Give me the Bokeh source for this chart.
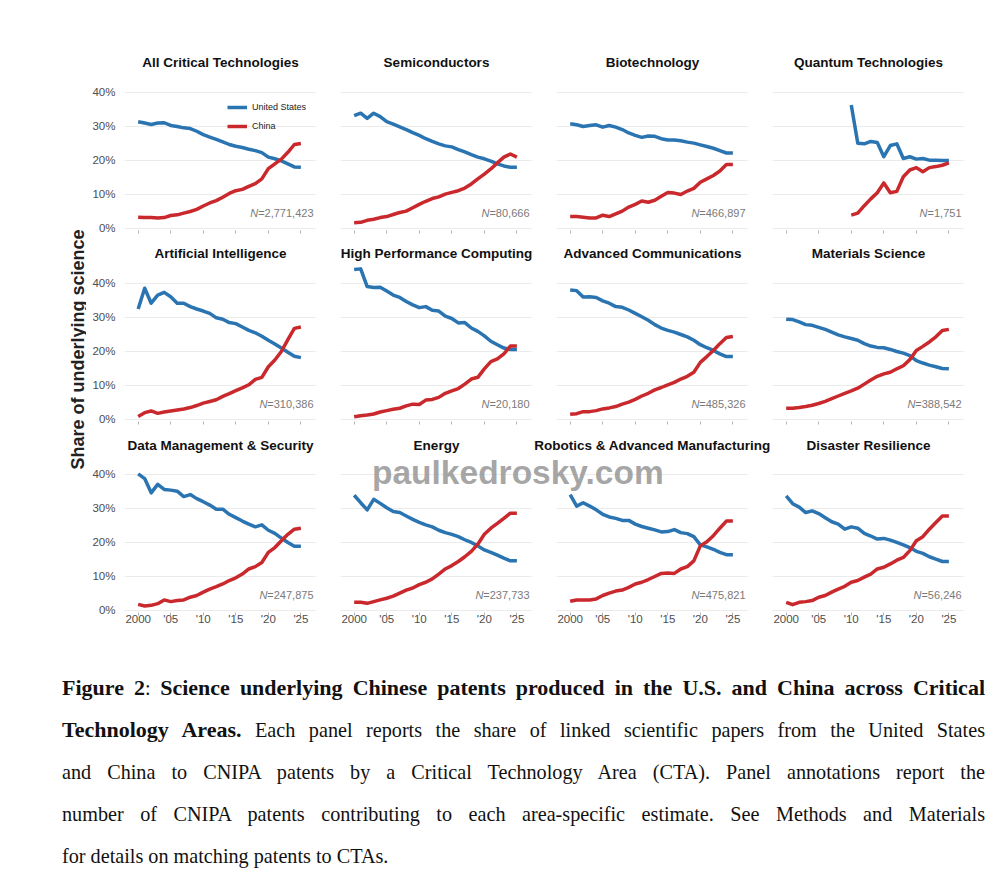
import math
from bokeh.plotting import figure
from bokeh.models import Range1d, FixedTicker, Label, Legend, LegendItem, Div
from bokeh.layouts import row, column
from bokeh.embed import file_html
from bokeh.resources import INLINE

# ---------------- data ----------------
years = list(range(2000, 2026))
years_q = list(range(2010, 2026))

titles = ["All Critical Technologies", "Semiconductors", "Biotechnology", "Quantum Technologies",
          "Artificial Intelligence", "High Performance Computing", "Advanced Communications", "Materials Science",
          "Data Management & Security", "Energy", "Robotics & Advanced Manufacturing", "Disaster Resilience"]
n_counts = ["2,771,423", "80,666", "466,897", "1,751",
            "310,386", "20,180", "485,326", "388,542",
            "247,875", "237,733", "475,821", "56,246"]

all_us = [31.4, 31.0, 30.6, 31.0, 31.1, 30.3, 30.0, 29.6, 29.4, 28.6, 27.6, 26.9, 26.2, 25.5, 24.7, 24.2, 23.8, 23.3, 22.9, 22.3, 21.0, 20.5, 19.9, 19.0, 18.1, 18.0]
all_cn = [3.3, 3.2, 3.2, 3.1, 3.2, 3.8, 4.0, 4.5, 5.0, 5.6, 6.6, 7.5, 8.2, 9.2, 10.3, 11.1, 11.5, 12.4, 13.2, 14.6, 17.6, 19.0, 20.4, 22.4, 24.7, 25.0]
semi_us = [33.2, 33.9, 32.4, 33.9, 32.9, 31.4, 30.7, 29.9, 29.1, 28.2, 27.4, 26.4, 25.6, 24.9, 24.3, 24.0, 23.2, 22.5, 21.7, 21.0, 20.5, 19.8, 19.0, 18.4, 18.0, 18.0]
semi_cn = [1.7, 1.8, 2.4, 2.7, 3.2, 3.5, 4.1, 4.7, 5.1, 6.1, 7.1, 8.0, 8.8, 9.3, 10.1, 10.6, 11.1, 11.9, 13.1, 14.6, 16.0, 17.5, 19.3, 21.0, 21.9, 21.0]
bio_us = [30.8, 30.5, 30.0, 30.3, 30.5, 29.8, 30.3, 29.8, 29.1, 28.1, 27.4, 26.8, 27.2, 27.1, 26.4, 26.0, 26.0, 25.8, 25.4, 25.1, 24.6, 24.1, 23.6, 22.9, 22.2, 22.2]
bio_cn = [3.5, 3.5, 3.3, 3.1, 3.1, 3.9, 3.5, 4.3, 5.1, 6.3, 7.1, 8.1, 7.7, 8.3, 9.5, 10.6, 10.4, 10.0, 11.0, 11.8, 13.6, 14.6, 15.6, 16.9, 18.8, 18.8]
q_us = [36.3, 25.1, 24.9, 25.6, 25.3, 21.1, 24.4, 24.9, 20.6, 21.1, 20.4, 20.6, 20.1, 20.1, 20.0, 20.0]
q_cn = [3.9, 4.5, 6.7, 8.7, 10.5, 13.4, 10.5, 10.9, 15.2, 17.2, 17.9, 16.7, 17.9, 18.2, 18.6, 19.3]
ai_us = [32.5, 38.6, 34.2, 36.6, 37.4, 36.1, 34.2, 34.2, 33.2, 32.5, 31.9, 31.2, 29.9, 29.5, 28.5, 28.2, 27.2, 26.2, 25.5, 24.5, 23.3, 22.2, 21.0, 19.8, 18.6, 18.2]
ai_cn = [0.9, 2.0, 2.5, 1.8, 2.2, 2.5, 2.8, 3.1, 3.5, 4.1, 4.8, 5.3, 5.8, 6.8, 7.6, 8.5, 9.3, 10.2, 11.8, 12.4, 15.5, 17.5, 20.0, 23.5, 26.8, 27.2]
hpc_us = [44.1, 44.3, 39.1, 38.8, 38.9, 37.8, 36.6, 35.9, 34.7, 33.7, 32.9, 33.2, 32.1, 31.9, 30.4, 29.7, 28.4, 28.5, 26.9, 25.9, 24.6, 23.0, 22.0, 21.0, 20.6, 20.6]
hpc_cn = [0.8, 1.1, 1.3, 1.6, 2.2, 2.6, 3.0, 3.3, 4.0, 4.5, 4.4, 5.7, 5.9, 6.5, 7.7, 8.4, 9.1, 10.4, 11.9, 12.4, 14.9, 17.0, 17.8, 19.3, 21.6, 21.6]
ac_us = [38.1, 37.9, 36.0, 36.1, 35.9, 34.9, 34.2, 33.2, 33.0, 32.2, 31.2, 30.2, 29.2, 27.9, 26.9, 26.2, 25.7, 25.0, 24.3, 23.3, 22.0, 21.1, 20.3, 19.3, 18.5, 18.5]
ac_cn = [1.5, 1.7, 2.3, 2.3, 2.6, 3.1, 3.4, 3.8, 4.5, 5.1, 5.9, 6.9, 7.7, 8.7, 9.4, 10.2, 10.9, 11.9, 12.7, 13.9, 16.8, 18.5, 20.3, 22.3, 24.1, 24.4]
mat_us = [29.5, 29.4, 28.7, 27.9, 27.7, 27.1, 26.5, 25.7, 24.9, 24.3, 23.8, 23.3, 22.3, 21.6, 21.2, 21.1, 20.6, 20.0, 19.5, 18.8, 17.3, 16.6, 16.0, 15.5, 15.0, 14.9]
mat_cn = [3.3, 3.3, 3.5, 3.8, 4.2, 4.7, 5.3, 6.1, 6.9, 7.7, 8.4, 9.2, 10.4, 11.6, 12.7, 13.4, 13.9, 14.9, 15.8, 17.6, 20.3, 21.5, 22.8, 24.3, 26.2, 26.5]
dm_us = [40.2, 38.8, 34.6, 37.1, 35.6, 35.4, 35.1, 33.5, 34.1, 32.9, 32.0, 31.0, 29.8, 29.8, 28.3, 27.3, 26.3, 25.4, 24.6, 25.2, 23.6, 22.7, 21.3, 20.0, 18.9, 18.9]
dm_cn = [1.8, 1.3, 1.5, 2.0, 3.1, 2.6, 2.9, 3.1, 3.9, 4.4, 5.4, 6.3, 7.0, 7.8, 8.8, 9.6, 10.7, 12.2, 12.9, 14.1, 17.1, 18.5, 20.5, 22.4, 23.9, 24.2]
en_us = [33.9, 31.7, 29.6, 32.7, 31.5, 30.2, 29.1, 28.8, 27.8, 26.8, 25.9, 25.2, 24.6, 23.6, 22.9, 22.4, 21.7, 20.8, 20.0, 19.0, 17.8, 17.1, 16.3, 15.4, 14.6, 14.6]
en_cn = [2.4, 2.4, 2.1, 2.6, 3.1, 3.6, 4.2, 5.1, 6.0, 6.6, 7.6, 8.3, 9.3, 10.7, 12.2, 13.2, 14.4, 15.8, 17.4, 19.5, 22.4, 24.2, 25.6, 27.1, 28.6, 28.6]
rob_us = [34.1, 30.7, 31.7, 30.7, 29.6, 28.3, 27.5, 27.1, 26.5, 26.5, 25.4, 24.7, 24.2, 23.7, 23.1, 23.2, 23.8, 22.9, 22.6, 21.7, 19.3, 18.7, 18.0, 17.1, 16.4, 16.4]
rob_cn = [2.7, 3.1, 3.1, 3.1, 3.4, 4.4, 5.1, 5.7, 6.0, 6.8, 7.8, 8.3, 9.1, 10.0, 10.9, 11.0, 10.9, 12.2, 12.9, 14.6, 19.0, 20.2, 22.0, 24.2, 26.3, 26.3]
dis_us = [33.7, 31.4, 30.4, 28.8, 29.3, 28.5, 27.3, 26.1, 25.4, 23.9, 24.6, 24.2, 22.7, 21.9, 21.0, 21.2, 20.7, 20.0, 19.3, 18.5, 17.4, 16.8, 15.8, 15.1, 14.4, 14.4]
dis_cn = [2.4, 1.7, 2.4, 2.6, 2.9, 3.9, 4.4, 5.4, 6.3, 7.1, 8.3, 8.8, 9.8, 10.7, 12.2, 12.7, 13.7, 14.8, 15.6, 17.6, 20.5, 21.7, 23.9, 25.9, 27.8, 27.8]

panel_x = [years, years, years, years_q, years, years, years, years, years, years, years, years]
panel_us = [all_us, semi_us, bio_us, q_us, ai_us, hpc_us, ac_us, mat_us, dm_us, en_us, rob_us, dis_us]
panel_cn = [all_cn, semi_cn, bio_cn, q_cn, ai_cn, hpc_cn, ac_cn, mat_cn, dm_cn, en_cn, rob_cn, dis_cn]

x_ticks = [2000, 2005, 2010, 2015, 2020, 2025]
x_tick_labels = ["2000", "'05", "'10", "'15", "'20", "'25"]
y_ticks = [0, 10, 20, 30, 40]
y_tick_labels = ["0%", "10%", "20%", "30%", "40%"]
series_names = ["United States", "China"]

# ---------------- styles ----------------
FONT = "Liberation Sans"
BLUE = "#2b74b2"
RED = "#c9282c"
FW, FH = 192, 155
PITCH = 216
YLAB_W = 86
C1_LEFT = 38
TICK_COL = "#b5b5b5"

def text_width(s, size):
    w = {"=": 0.584, ",": 0.278}
    return sum(w.get(c, 0.556) for c in s) * size

panels = []
for i in range(12):
    r, c = divmod(i, 4)
    p = figure(frame_width=FW, frame_height=FH,
               min_border_left=(C1_LEFT if c == 0 else 11), min_border_right=13,
               min_border_top=4, min_border_bottom=(26 if r == 2 else 10),
               x_range=Range1d(1997.9, 2027.4), y_range=Range1d(-0.6, 45),
               output_backend="svg", toolbar_location=None, tools="")
    p.outline_line_color = None
    p.background_fill_color = "white"
    p.border_fill_color = "white"
    p.xgrid.visible = False
    p.ygrid.ticker = FixedTicker(ticks=y_ticks)
    p.ygrid.grid_line_color = "#ebebeb"
    p.ygrid.grid_line_width = 1

    xa = p.xaxis[0]
    xa.axis_line_color = None
    xa.major_tick_line_color = TICK_COL
    xa.minor_tick_line_color = TICK_COL
    xa.major_tick_in = 0
    xa.major_tick_out = 3
    xa.minor_tick_in = 0
    xa.minor_tick_out = 3
    xa.major_label_text_font = FONT
    xa.major_label_text_color = "#4d4d4d"
    xa.major_label_text_font_size = "11.5px"
    if r == 2:
        xa.ticker = FixedTicker(ticks=x_ticks)
        xa.major_label_overrides = dict(zip(x_ticks, x_tick_labels))
        xa.major_label_standoff = -3
    else:
        # tick marks only, no labels in the upper rows
        xa.ticker = FixedTicker(ticks=[], minor_ticks=x_ticks)

    ya = p.yaxis[0]
    if c == 0:
        ya.ticker = FixedTicker(ticks=y_ticks)
        ya.major_label_overrides = dict(zip(y_ticks, y_tick_labels))
        ya.axis_line_color = None
        ya.major_tick_line_color = None
        ya.minor_tick_line_color = None
        ya.major_label_text_font = FONT
        ya.major_label_text_font_size = "11.5px"
        ya.major_label_text_color = "#4d4d4d"
        ya.major_label_standoff = 3
    else:
        ya.visible = False

    r_us = p.line(panel_x[i], panel_us[i], line_width=3.5, line_color=BLUE, line_join="round")
    r_cn = p.line(panel_x[i], panel_cn[i], line_width=3.5, line_color=RED, line_join="round")

    if i == 0:
        leg = Legend(items=[LegendItem(label=series_names[0], renderers=[r_us]),
                            LegendItem(label=series_names[1], renderers=[r_cn])],
                     location=(103, 96), padding=0, margin=0, spacing=3,
                     glyph_width=20, glyph_height=16, label_height=16, label_standoff=5,
                     label_text_font=FONT, label_text_font_size="9px", label_text_color="#222222",
                     border_line_color=None, background_fill_alpha=0)
        p.add_layout(leg)

    rest = "=" + n_counts[i]
    xr = FW - 3
    p.add_layout(Label(x=xr, x_units="screen", y=4.5, y_units="data", text=rest,
                       text_align="right", text_baseline="middle", text_font=FONT,
                       text_font_size="11px", text_color="#7a7a7a"))
    p.add_layout(Label(x=xr - text_width(rest, 11), x_units="screen", y=4.5, y_units="data", text="N",
                       text_align="right", text_baseline="middle", text_font=FONT,
                       text_font_size="11px", text_font_style="italic", text_color="#7a7a7a"))
    panels.append(p)

# title strips
STRIP_W = C1_LEFT + FW + 13 + 3 * PITCH
def strip(h, row_idx, yb):
    s = figure(width=STRIP_W, height=h, min_border=0, x_axis_type=None, y_axis_type=None,
               x_range=Range1d(0, 1), y_range=Range1d(0, 1),
               output_backend="svg", toolbar_location=None, tools="")
    s.outline_line_color = None
    s.grid.visible = False
    for c in range(4):
        cx = C1_LEFT + FW / 2 + c * PITCH
        s.add_layout(Label(x=cx, x_units="screen", y=yb, y_units="screen",
                           text=titles[row_idx * 4 + c], text_align="center", text_baseline="middle",
                           text_font=FONT, text_font_size="13.5px", text_font_style="bold",
                           text_color="#111111"))
    return s

strip1 = strip(71, 0, 9)
strip2 = strip(22, 1, 9)
strip3 = strip(22, 2, 8)

right = column(strip1, row(*panels[0:4]), strip2, row(*panels[4:8]), strip3, row(*panels[8:12]))

ylab = figure(width=YLAB_W, height=638, min_border=0, x_axis_type=None, y_axis_type=None,
              x_range=Range1d(0, 1), y_range=Range1d(0, 1),
              output_backend="svg", toolbar_location=None, tools="")
ylab.outline_line_color = None
ylab.grid.visible = False
ylab.add_layout(Label(x=77, x_units="screen", y=638 - 349, y_units="screen",
                      text="Share of underlying science", angle=math.pi / 2,
                      text_align="center", text_baseline="middle", text_font=FONT,
                      text_font_size="18px", text_font_style="bold", text_color="#222222"))

# watermark overlay (pulled up over the bottom row)
wm = Div(text='<div style="font-family:\'Liberation Sans\';font-weight:bold;font-size:33.5px;'
              'line-height:40px;white-space:nowrap;color:rgba(150,150,150,0.85);">paulkedrosky.com</div>',
         width=310, height=40, margin=(-185, 0, 0, 372))

B = '<b style="font-size:22px;">'
cap_lines = [
    B + "Figure 2</b>: " + B + "Science underlying Chinese patents produced in the U.S. and China across Critical</b>",
    B + "Technology Areas.</b> Each panel reports the share of linked scientific papers from the United States",
    "and China to CNIPA patents by a Critical Technology Area (CTA). Panel annotations report the",
    "number of CNIPA patents contributing to each area-specific estimate. See Methods and Materials",
    "for details on matching patents to CTAs.",
]
html = '<div style="width:923px;">'
for k, ln in enumerate(cap_lines):
    last = "left" if k == len(cap_lines) - 1 else "justify"
    html += ('<div style="display:block;width:923px;text-align:justify;text-align-last:%s;height:42px;'
             'line-height:42px;font-family:\'Liberation Serif\';font-size:20.2px;color:#111;white-space:nowrap;">%s</div>'
             % (last, ln))
html += "</div>"
caption = Div(text=html, width=923, height=210, margin=(174, 0, 0, 62))

layout = column(row(ylab, right), wm, caption)

open("out.html", "w").write(file_html(layout, INLINE))
